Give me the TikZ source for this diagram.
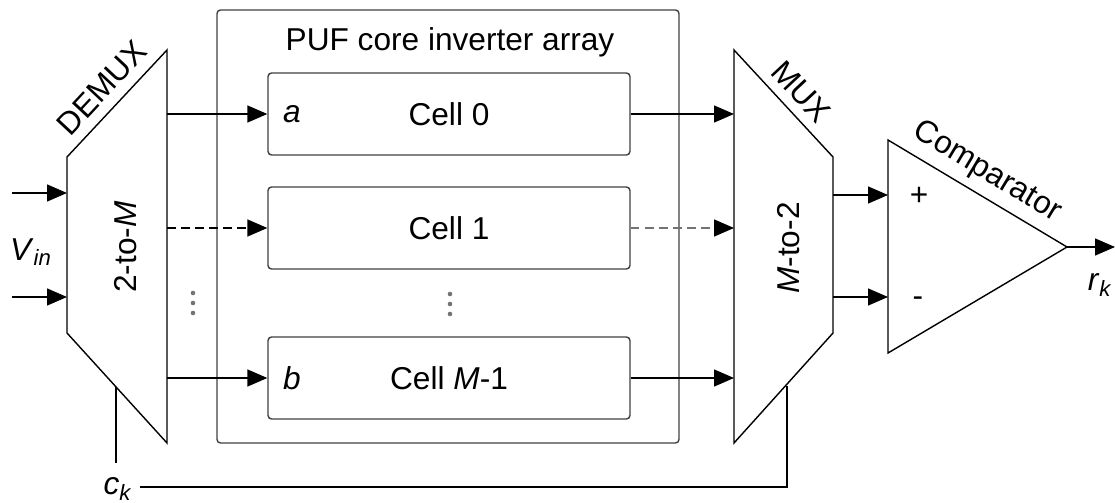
\documentclass[tikz,border=0pt]{standalone}
\usepackage{fontspec}
\setmainfont{Liberation Sans}
\usetikzlibrary{arrows.meta}

\tikzset{
  cellbox/.style={draw=black!75, rounded corners=2pt, minimum width=7.24cm, minimum height=1.64cm, font=\fontsize{18}{21}\selectfont},
  lbl/.style={font=\fontsize{18}{21}\selectfont},
  sig/.style={-{Triangle[length=0.4cm,width=0.34cm]}},
  gsig/.style={-{Triangle[length=0.4cm,width=0.34cm,black]}},
  dsh/.style={dash pattern=on 5pt off 3pt},
  dotc/.style={fill=black!55, radius=1.3pt},
}

\begin{document}
\begin{tikzpicture}[x=0.02cm, y=-0.02cm, line width=0.8pt]
\useasboundingbox (0,0) rectangle (1115,503);

% DEMUX
\draw (67,157) -- (167,50) -- (167,443) -- (67,333) -- cycle;
\node[lbl, rotate=47] at (102,88) {DEMUX};
\node[lbl, rotate=90] at (126,247) {2-to-\textit{M}};
\coordinate (din0) at (67,193);
\coordinate (din1) at (67,297);
\coordinate (vin0) at (12,193);
\coordinate (vin1) at (12,297);
\node[lbl] (vin) at (31,252) {\textit{V}\textsubscript{\textit{in}}};
\coordinate (dout0) at (167,114);
\coordinate (dout1) at (167,228);
\coordinate (doutM) at (167,378);
\foreach \y in {293,303,313} \fill[dotc] (193,\y) circle;

% PUF core
\draw[black!75, rounded corners=2pt] (217,10) rectangle (679,443);
\node[lbl] (title) at (450,42) {PUF core inverter array};
\node[cellbox] (c0) at (449,114) {Cell 0};
\node[cellbox] (c1) at (449,228) {Cell 1};
\foreach \y in {294,304,314} \fill[dotc] (450,\y) circle;
\node[cellbox] (cM) at (449,378) {Cell \textit{M}-1};
\node[lbl] at (292,114) {\textit{a}};
\node[lbl] at (292,378) {\textit{b}};

% MUX
\draw (734,50) -- (833,157) -- (833,333) -- (734,443) -- cycle;
\node[lbl, rotate=-47] at (801,92) {MUX};
\node[lbl, rotate=90] at (789,248) {\textit{M}-to-2};
\coordinate (min0) at (734,114);
\coordinate (min1) at (734,228);
\coordinate (minM) at (734,378);
\coordinate (mout0) at (833,195);
\coordinate (mout1) at (833,297);

% Comparator
\draw (888,140) -- (1067,247) -- (888,353) -- cycle;
\node[lbl, rotate=-31] at (987,172) {Comparator};
\node[lbl] at (919,196) {+};
\node[lbl] at (918,302) {-};
\coordinate (cp) at (888,195);
\coordinate (cn) at (888,297);
\coordinate (cout) at (1067,247);
\coordinate (rout) at (1115,247);
\node[lbl] (rk) at (1100,285) {\textit{r}\textsubscript{\textit{k}}};

% control line
\coordinate (ckd) at (116,387);
\coordinate (ckd2) at (116,463);
\coordinate (ckm) at (787,386);
\coordinate (cks) at (140,487);
\node[lbl] (ck) at (118,489) {\textit{c}\textsubscript{\textit{k}}};

% connections
\draw[sig] (vin0) -- (din0);
\draw[sig] (vin1) -- (din1);
\draw[sig] (dout0) -- (c0.west);
\draw[sig, dsh] (dout1) -- (c1.west);
\draw[sig] (doutM) -- (cM.west);
\draw[sig] (c0.east) -- (min0);
\draw[gsig, dsh, black!55] (c1.east) -- (min1);
\draw[sig] (cM.east) -- (minM);
\draw[sig] (mout0) -- (cp);
\draw[sig] (mout1) -- (cn);
\draw[sig] (cout) -- (rout);
\draw (ckd) -- (ckd2);
\draw (cks) -| (ckm);
\end{tikzpicture}
\end{document}
